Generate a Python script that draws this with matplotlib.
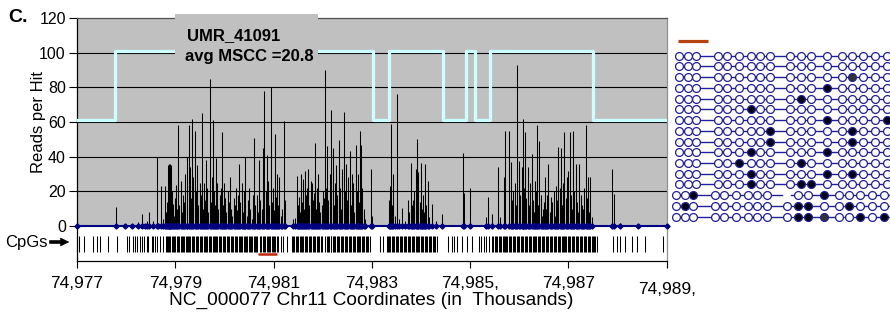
import matplotlib
matplotlib.use("Agg")
import matplotlib.pyplot as plt
from matplotlib.patches import Rectangle

plt.rcParams['font.family'] = ['Liberation Sans', 'DejaVu Sans']

# ---------------- data ----------------
hit_kb = [
    74977.00, 74977.80, 74977.98, 74978.13, 74978.25, 74978.32, 74978.39, 74978.42, 74978.47, 74978.55,
    74978.62, 74978.66, 74978.71, 74978.76, 74978.80, 74978.82, 74978.84, 74978.86, 74978.87, 74978.88,
    74978.89, 74978.90, 74978.92, 74978.93, 74978.95, 74978.97, 74978.99, 74979.01, 74979.03, 74979.06,
    74979.08, 74979.11, 74979.13, 74979.15, 74979.17, 74979.20, 74979.23, 74979.25, 74979.28, 74979.30,
    74979.32, 74979.35, 74979.37, 74979.40, 74979.42, 74979.45, 74979.47, 74979.50, 74979.52, 74979.54,
    74979.56, 74979.58, 74979.61, 74979.63, 74979.65, 74979.67, 74979.70, 74979.72, 74979.74, 74979.77,
    74979.79, 74979.81, 74979.84, 74979.86, 74979.88, 74979.91, 74979.94, 74979.96, 74979.98, 74980.00,
    74980.02, 74980.04, 74980.07, 74980.09, 74980.11, 74980.13, 74980.16, 74980.19, 74980.21, 74980.24,
    74980.26, 74980.28, 74980.30, 74980.32, 74980.35, 74980.37, 74980.39, 74980.41, 74980.43, 74980.46,
    74980.48, 74980.51, 74980.53, 74980.56, 74980.58, 74980.61, 74980.63, 74980.66, 74980.68, 74980.71,
    74980.73, 74980.76, 74980.79, 74980.81, 74980.84, 74980.87, 74980.89, 74980.91, 74980.94, 74980.96,
    74980.99, 74981.01, 74981.03, 74981.05, 74981.08, 74981.10, 74981.12, 74981.15, 74981.18, 74981.21,
    74981.23, 74981.40, 74981.44, 74981.47, 74981.49, 74981.51, 74981.53, 74981.55, 74981.57, 74981.60,
    74981.62, 74981.64, 74981.66, 74981.69, 74981.71, 74981.73, 74981.76, 74981.78, 74981.80, 74981.82,
    74981.84, 74981.86, 74981.88, 74981.91, 74981.93, 74981.95, 74981.98, 74982.00, 74982.03, 74982.05,
    74982.07, 74982.09, 74982.11, 74982.14, 74982.16, 74982.18, 74982.21, 74982.23, 74982.26, 74982.28,
    74982.30, 74982.33, 74982.35, 74982.37, 74982.40, 74982.43, 74982.45, 74982.47, 74982.50, 74982.52,
    74982.55, 74982.57, 74982.60, 74982.62, 74982.64, 74982.67, 74982.69, 74982.72, 74982.74, 74982.76,
    74982.79, 74982.81, 74982.84, 74982.87, 74982.98, 74983.00, 74983.34, 74983.37, 74983.40, 74983.42,
    74983.44, 74983.47, 74983.52, 74983.56, 74983.61, 74983.68, 74983.73, 74983.76, 74983.79, 74983.82,
    74983.84, 74983.86, 74983.89, 74983.91, 74983.93, 74983.95, 74983.98, 74984.00, 74984.02, 74984.05,
    74984.07, 74984.09, 74984.11, 74984.14, 74984.17, 74984.22, 74984.30, 74984.42, 74984.85, 74984.87,
    74984.99, 74985.33, 74985.36, 74985.44, 74985.56, 74985.61, 74985.68, 74985.71, 74985.79, 74985.83,
    74985.85, 74985.88, 74985.91, 74985.93, 74985.96, 74986.00, 74986.02, 74986.05, 74986.07, 74986.08,
    74986.10, 74986.12, 74986.14, 74986.17, 74986.20, 74986.22, 74986.25, 74986.28, 74986.30, 74986.32,
    74986.34, 74986.36, 74986.38, 74986.41, 74986.44, 74986.46, 74986.48, 74986.50, 74986.52, 74986.55,
    74986.57, 74986.59, 74986.62, 74986.64, 74986.67, 74986.70, 74986.72, 74986.74, 74986.77, 74986.79,
    74986.82, 74986.84, 74986.87, 74986.89, 74986.92, 74986.95, 74986.97, 74987.00, 74987.03, 74987.05,
    74987.07, 74987.10, 74987.12, 74987.15, 74987.18, 74987.20, 74987.22, 74987.25, 74987.27, 74987.30,
    74987.32, 74987.35, 74987.37, 74987.39, 74987.42, 74987.44, 74987.47, 74987.88, 74987.92, 74988.05,
    74988.42, 74989.00,
]
hit_reads = [
    0, 10.8, 0, 0, 2.5, 7, 1, 3, 8, 3,
    40, 2, 23, 4, 23, 8, 14, 35, 36, 30,
    36, 26, 35, 20, 12.7, 6, 16, 23.5, 10, 58,
    12, 26, 8, 18, 14, 30, 40, 22, 58, 34,
    16, 62, 28, 55, 20, 35, 12, 25, 18, 65,
    10, 25, 15, 38, 22, 8, 84.6, 14, 28, 61,
    20, 12, 39, 25, 10, 18, 22, 54, 12, 25,
    16, 8, 20, 14, 28.5, 10, 6, 16, 12, 22,
    9, 18, 36, 14, 25, 8, 20, 40, 12, 6,
    15, 22, 10, 4, 18, 50.6, 12, 18, 8, 38,
    15, 10, 45, 78, 20, 41, 26, 12, 80.4, 14,
    22, 9, 53, 17, 30, 12, 28, 6, 10, 60.6,
    15, 4, 4.4, 29, 12, 17, 8, 30, 14, 27,
    10, 31.5, 18, 22, 33, 12, 26, 25, 15, 19,
    48, 10, 22, 30, 14, 8, 12, 20, 16, 90,
    22, 46, 15, 30, 67, 20, 45, 12, 25, 35,
    18, 49.6, 22, 10, 33, 65.6, 20, 36, 15, 28,
    43, 12, 30, 25, 8, 46.7, 20, 30, 14, 55,
    46.7, 22, 10, 4, 33, 6, 15, 23, 59, 12,
    30, 6, 76, 4, 10.6, 3, 15, 8, 36.5, 12,
    15, 20, 33, 50, 10, 31, 14, 36.5, 10, 18,
    8, 36, 12, 26, 5, 12.7, 3, 7, 42, 19,
    22, 5, 17, 7, 34, 5, 28, 55, 55, 37,
    15, 20, 25, 12, 93, 37.5, 18, 34, 10, 61.5,
    22, 54, 16, 34, 12, 25, 41.5, 15, 8, 26,
    20, 58, 12, 49, 18, 6, 10, 14, 28, 10,
    18, 36, 8, 17, 14, 20, 6, 23, 15, 45.4,
    22, 45, 12, 25, 54, 16, 28, 32, 54, 18,
    10, 55, 20, 36, 14, 8, 36, 18, 12, 10,
    22, 58, 16, 28, 8, 28.5, 5, 33, 18.5, 2,
    0, 0,
]

cpg_kb = [
    74977.04, 74977.15, 74977.33, 74977.40, 74977.47, 74977.64, 74977.81, 74978.01, 74978.07, 74978.14,
    74978.18, 74978.23, 74978.28, 74978.32, 74978.37, 74978.42, 74978.45, 74978.52, 74978.55, 74978.59,
    74978.62, 74978.69, 74978.76,
    74978.81, 74978.83, 74978.86, 74978.88, 74978.90, 74978.93, 74978.95, 74978.98, 74979.00, 74979.03,
    74979.05, 74979.08, 74979.11, 74979.13, 74979.16, 74979.18, 74979.21, 74979.24, 74979.26, 74979.29,
    74979.31, 74979.34, 74979.37, 74979.39, 74979.42, 74979.44, 74979.47, 74979.50, 74979.52, 74979.55,
    74979.58, 74979.60, 74979.63, 74979.65, 74979.68, 74979.71, 74979.73, 74979.76, 74979.79, 74979.81,
    74979.84, 74979.86, 74979.89, 74979.92, 74979.94, 74979.97, 74980.00, 74980.02, 74980.05, 74980.08,
    74980.10, 74980.13, 74980.15, 74980.18, 74980.21, 74980.23, 74980.26, 74980.29, 74980.31, 74980.34,
    74980.36, 74980.39, 74980.42, 74980.44, 74980.47, 74980.50, 74980.52, 74980.55, 74980.57, 74980.60,
    74980.63, 74980.65, 74980.67,
    74980.73, 74980.75, 74980.78, 74980.80, 74980.83, 74980.86, 74980.88, 74980.91, 74980.93, 74980.96,
    74980.99, 74981.01, 74981.04, 74981.07, 74981.10, 74981.15, 74981.20, 74981.27,
    74981.37, 74981.40, 74981.42, 74981.45, 74981.48, 74981.50, 74981.53, 74981.56, 74981.58, 74981.61,
    74981.64, 74981.66, 74981.69, 74981.72, 74981.74, 74981.77, 74981.80, 74981.82, 74981.85, 74981.88,
    74981.90, 74981.93, 74981.96, 74981.98,
    74982.05, 74982.08, 74982.10, 74982.13, 74982.16, 74982.18, 74982.21, 74982.24, 74982.26, 74982.29,
    74982.32, 74982.34, 74982.37, 74982.40, 74982.42, 74982.45, 74982.48, 74982.50, 74982.53, 74982.56,
    74982.58, 74982.61, 74982.64, 74982.66, 74982.69, 74982.72, 74982.74, 74982.77, 74982.80, 74982.82,
    74982.85, 74982.88, 74982.90, 74982.93, 74982.96,
    74983.17, 74983.23,
    74983.30, 74983.33, 74983.36, 74983.38, 74983.41, 74983.44, 74983.46, 74983.49, 74983.52, 74983.54,
    74983.57, 74983.60, 74983.62, 74983.65, 74983.68, 74983.70, 74983.73, 74983.76, 74983.78, 74983.81,
    74983.84, 74983.86, 74983.89, 74983.92, 74983.94, 74983.97, 74984.00, 74984.02, 74984.05, 74984.08,
    74984.10, 74984.13, 74984.16, 74984.18, 74984.21, 74984.24, 74984.26, 74984.29, 74984.32,
    74984.56, 74984.63, 74984.67, 74984.73, 74984.83, 74984.93, 74985.03,
    74985.19, 74985.23, 74985.28, 74985.33, 74985.39, 74985.44,
    74985.47, 74985.50, 74985.52, 74985.55, 74985.58, 74985.60, 74985.63, 74985.66, 74985.68, 74985.71,
    74985.74, 74985.76, 74985.79, 74985.82, 74985.84, 74985.87, 74985.90, 74985.92, 74985.95, 74985.98,
    74986.00, 74986.03, 74986.06, 74986.08, 74986.11, 74986.14, 74986.16, 74986.19, 74986.22, 74986.24,
    74986.27, 74986.30, 74986.32, 74986.35, 74986.38, 74986.40, 74986.43, 74986.46, 74986.48, 74986.51,
    74986.54, 74986.56, 74986.59, 74986.62, 74986.64, 74986.67, 74986.70, 74986.72, 74986.75, 74986.78,
    74986.80, 74986.83, 74986.86, 74986.88, 74986.91, 74986.94, 74986.96, 74986.99, 74987.02, 74987.04,
    74987.07, 74987.10, 74987.12, 74987.15, 74987.18, 74987.20, 74987.23, 74987.26, 74987.28, 74987.31,
    74987.34, 74987.36, 74987.39, 74987.42, 74987.44, 74987.47, 74987.50, 74987.52, 74987.55, 74987.58,
    74987.91, 74987.98, 74988.05, 74988.15, 74988.29, 74988.39, 74988.56, 74988.92,
]

# MSCC step trace (cyan line)
mscc_kb = [74977.00, 74977.78, 74983.03, 74983.36, 74984.44, 74984.91, 74985.10, 74985.40, 74987.51, 74989.00]
mscc_level = [61, 101, 61, 101, 61, 101, 61, 101, 61, 61]

# bisulfite-sequenced region (red bar)
region_kb = [74980.69, 74981.08]

y_ticks = [0, 20, 40, 60, 80, 100, 120]
x_ticks = [74977, 74979, 74981, 74983, 74985, 74987, 74989]
x_tick_labels = ["74,977", "74,979", "74,981", "74,983", "74,985,", "74,987", "74,989,"]

title_lines = ["UMR_41091", "avg MSCC =20.8"]

# clone methylation: o = unmethylated, x = methylated, g = methylated (grey), - = missing
clone_cpg_offsets = [7.3, 15.7, 24.0, 46.0, 55.0, 66.7, 79.0, 88.3, 97.7, 118.0,
                     128.7, 139.0, 154.7, 169.7, 179.7, 191.3, 203.0, 214.7]
clone_rows = [
    "oooooooooooooooooo",
    "oooooooooooooooooo",
    "oooooooooooooogooo",
    "ooooooooooooxooooo",
    "ooooooooooxooooooo",
    "ooooooxooooooooooo",
    "ooooooooooooxoooox",
    "ooooooooxoooooxooo",
    "ooooooooxoooooxooo",
    "ooooooxoooooxooooo",
    "oooooxooooxooooooo",
    "ooooooxoooooxoxooo",
    "ooooooxoooxxoooooo",
    "ooxoooooo-ooxooooo",
    "oxooooooooxxooxooo",
    "ooooooooooxxgooxox",
]
clone_shift = [0, 0, 0, 0, 0, 0, 0, 0, 0, 0, 0, 0, 0, -3, -3, -3]

# ---------------- figure ----------------
W, H = 890, 322
fig = plt.figure(figsize=(W / 100, H / 100), dpi=100)


def fx(px):
    return px / W


def fy(py):
    return 1 - py / H


ax_left, ax_right, ax_top, ax_bot = 76.9, 666.7, 18.0, 261.0
ax = fig.add_axes([fx(ax_left), fy(ax_bot), (ax_right - ax_left) / W, (ax_bot - ax_top) / H])
ax.set_xlim(x_ticks[0], x_ticks[-1])
ax.set_ylim(-20.2, 120)
ax.set_facecolor('white')
ax.axhspan(0, y_ticks[-1], color='#c0c0c0', zorder=0, lw=0)
ax.hlines(y_ticks[1:-1], x_ticks[0], x_ticks[-1], color='black', lw=0.8, zorder=1)

# reads bars
ax.vlines(hit_kb, 0, hit_reads, color='black', lw=0.75, zorder=3)
# MSCC step line
ax.step(mscc_kb, mscc_level, where='post', color='#ccffff', lw=2.3, zorder=4)
# baseline with diamonds
ax.plot(hit_kb, [0] * len(hit_kb), color='#000080', lw=1.5, marker='D', ms=2.6,
        mfc='#000080', mec='#000080', zorder=5, clip_on=False)
# CpG sites
ax.vlines(cpg_kb, -15.2, -5.8, color='black', lw=0.75, zorder=3)
# region bar
ax.hlines(-16.4, region_kb[0], region_kb[1], color='#c0280c', lw=1.8, zorder=3)

ax.set_yticks(y_ticks)
ax.set_yticklabels([str(v) for v in y_ticks])
ax.set_xticks(x_ticks)
ax.set_xticklabels(x_tick_labels)
ax.tick_params(axis='y', direction='out', length=6, width=0.8, pad=2, labelsize=11.5)
ax.tick_params(axis='x', direction='out', length=5, width=0.8, pad=6, labelsize=12.5)
ax.xaxis.get_major_ticks()[-1].set_pad(10)

for side, col in [('left', 'black'), ('bottom', 'black'), ('top', '#505050'), ('right', '#909090')]:
    ax.spines[side].set_color(col)
    ax.spines[side].set_linewidth(0.9)

# title box
fig.add_artist(Rectangle((fx(175), fy(70)), 143 / W, 56 / H, transform=fig.transFigure,
                         facecolor='#c0c0c0', edgecolor='none', zorder=5))
fig.text(fx(234), fy(36), title_lines[0], ha='center', va='center', fontsize=12,
         fontweight='bold', zorder=6)
fig.text(fx(249), fy(57), title_lines[1], ha='center', va='center', fontsize=12,
         fontweight='bold', zorder=6)

fig.text(fx(8), fy(18), "C.", ha='left', va='center', fontsize=14, fontweight='bold')
fig.text(fx(38), fy(122), "Reads per Hit", rotation=90, ha='center', va='center', fontsize=12)
fig.text(fx(26), fy(242), "CpGs", ha='center', va='center', fontsize=12)
fig.add_artist(plt.Line2D([fx(51), fx(62)], [fy(242), fy(242)], color='black', lw=2.6,
                          transform=fig.transFigure))
ax.annotate('', xy=(fx(72), fy(242)), xytext=(fx(60), fy(242)), xycoords='figure fraction',
            textcoords='figure fraction',
            arrowprops=dict(arrowstyle='-|>', color='black', lw=0.5, mutation_scale=14),
            annotation_clip=False)
fig.text(fx(371), fy(300), "NC_000077 Chr11 Coordinates (in  Thousands)", ha='center',
         va='center', fontsize=13.8)

# ---------------- clone panel ----------------
p_left, p_top, p_w, p_h = 672, 30, 218, 195
pax = fig.add_axes([fx(p_left), fy(p_top + p_h), p_w / W, p_h / H])
pax.set_xlim(0, p_w)
pax.set_ylim(p_h, 0)
pax.axis('off')
row_y0, row_dy = 25.7, 10.73
navy = '#1f1f9a'
for i, row in enumerate(clone_rows):
    y = row_y0 + i * row_dy
    xs = [c + clone_shift[i] for c in clone_cpg_offsets]
    miss = [k for k, ch in enumerate(row) if ch == '-']
    if miss:
        m = xs[miss[0]]
        pax.plot([xs[0], m - 5], [y, y], color=navy, lw=1.0, zorder=1)
        pax.plot([m + 4, p_w], [y, y], color=navy, lw=1.0, zorder=1)
    else:
        pax.plot([xs[0], p_w], [y, y], color=navy, lw=1.0, zorder=1)
    for k, ch in enumerate(row):
        if ch == '-':
            continue
        fc = {'o': 'white', 'x': '#000010', 'g': '#333333'}[ch]
        pax.scatter([xs[k]], [y], s=32, facecolor=fc, edgecolor=navy, linewidths=0.9, zorder=2)
# orange scale bar
pax.plot([6, 36], [10.5, 10.5], color='#b8420e', lw=2.3, solid_capstyle='butt')

fig.savefig('out.png', dpi=100)
